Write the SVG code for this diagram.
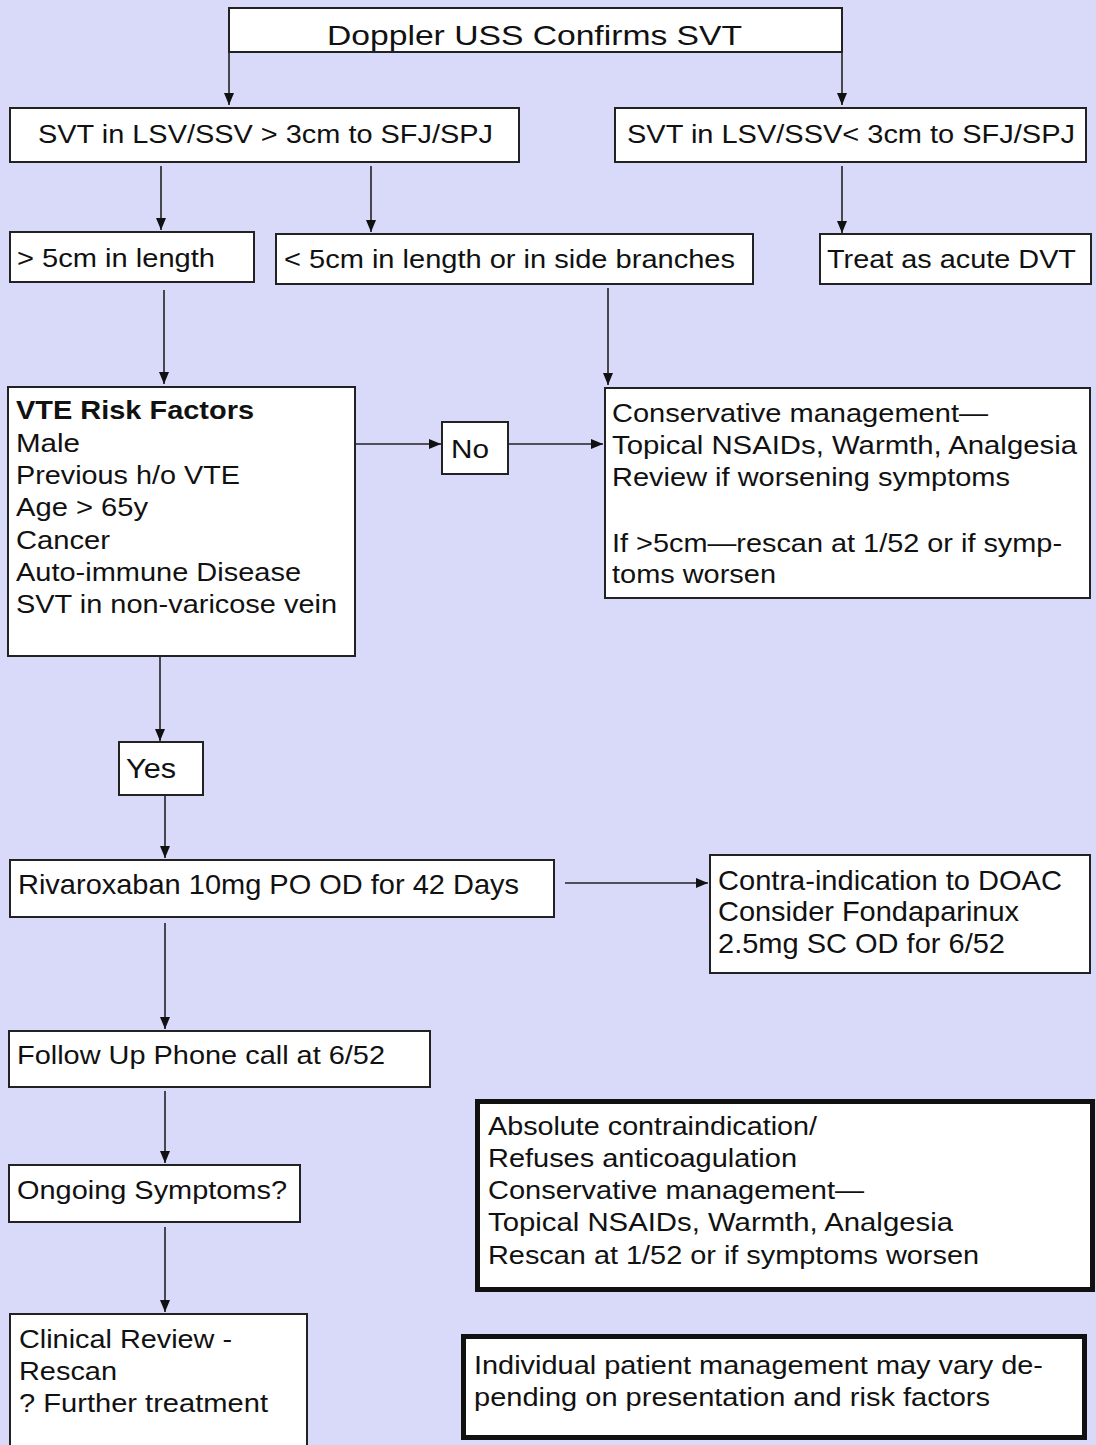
<svg xmlns="http://www.w3.org/2000/svg" width="1096" height="1445" viewBox="0 0 1096 1445">
<defs>
<marker id="ah" viewBox="0 0 12 10" refX="12" refY="5" markerWidth="12" markerHeight="10" markerUnits="userSpaceOnUse" orient="auto">
<path d="M0,0 L12,5 L0,10 z" fill="#111"/>
</marker>
</defs>
<style>
.bx{fill:#fff;stroke:#222;stroke-width:2}
.tk{fill:#fff;stroke:#111;stroke-width:5}
.t{font-family:"Liberation Sans",Arial,sans-serif;font-size:26.5px;fill:#111}
.n{font-family:"Liberation Sans",Arial,sans-serif;font-size:28px;fill:#111}
.c{stroke:#222;stroke-width:1.6;fill:none;marker-end:url(#ah)}
</style>
<rect width="1096" height="1445" fill="#d9d9f9"/>
<g id="connectors">
<path class="c" d="M229,52 V105"/>
<path class="c" d="M842,52 V105"/>
<path class="c" d="M161,166 V230"/>
<path class="c" d="M371,166 V232"/>
<path class="c" d="M842,166 V233"/>
<path class="c" d="M164,290 V384"/>
<path class="c" d="M608,288 V385"/>
<path class="c" d="M350,444 H441"/>
<path class="c" d="M508,444 H603"/>
<path class="c" d="M160,656 V741"/>
<path class="c" d="M165,796 V858"/>
<path class="c" d="M565,883 H708"/>
<path class="c" d="M165,923 V1029"/>
<path class="c" d="M165,1091 V1163"/>
<path class="c" d="M165,1227 V1312"/>
</g>
<g id="n-doppler"><rect class="bx" x="229" y="8" width="613" height="44"/><text class="t" x="327" y="45" style="font-size:27.5px" textLength="415" lengthAdjust="spacingAndGlyphs">Doppler USS Confirms SVT</text></g>
<g id="n-gt3"><rect class="bx" x="10" y="108" width="509" height="54"/><text class="t" x="38" y="143" textLength="455" lengthAdjust="spacingAndGlyphs">SVT in LSV/SSV &gt; 3cm to SFJ/SPJ</text></g>
<g id="n-lt3"><rect class="bx" x="615" y="108" width="471" height="54"/><text class="t" x="627" y="143" textLength="448" lengthAdjust="spacingAndGlyphs">SVT in LSV/SSV&lt; 3cm to SFJ/SPJ</text></g>
<g id="n-gt5"><rect class="bx" x="10" y="232" width="244" height="50"/><text class="t" x="17" y="267" textLength="198" lengthAdjust="spacingAndGlyphs">&gt; 5cm in length</text></g>
<g id="n-lt5"><rect class="bx" x="276" y="234" width="477" height="50"/><text class="t" x="284" y="268" textLength="451" lengthAdjust="spacingAndGlyphs">&lt; 5cm in length or in side branches</text></g>
<g id="n-dvt"><rect class="bx" x="820" y="234" width="271" height="50"/><text class="t" x="827" y="268" textLength="249" lengthAdjust="spacingAndGlyphs">Treat as acute DVT</text></g>
<g id="n-vte"><rect class="bx" x="8" y="387" width="347" height="269"/>
<text class="t" x="16" y="419" font-weight="bold" textLength="238" lengthAdjust="spacingAndGlyphs">VTE Risk Factors</text>
<text class="t" x="16" y="452" textLength="64" lengthAdjust="spacingAndGlyphs">Male</text>
<text class="t" x="16" y="484" textLength="224" lengthAdjust="spacingAndGlyphs">Previous h/o VTE</text>
<text class="t" x="16" y="516" textLength="132" lengthAdjust="spacingAndGlyphs">Age &gt; 65y</text>
<text class="t" x="16" y="549" textLength="94" lengthAdjust="spacingAndGlyphs">Cancer</text>
<text class="t" x="16" y="581" textLength="285" lengthAdjust="spacingAndGlyphs">Auto-immune Disease</text>
<text class="t" x="16" y="613" textLength="321" lengthAdjust="spacingAndGlyphs">SVT in non-varicose vein</text>
</g>
<g id="n-no"><rect class="bx" x="442" y="422" width="66" height="52"/><text class="t" x="451" y="458" textLength="38" lengthAdjust="spacingAndGlyphs">No</text></g>
<g id="n-cons"><rect class="bx" x="605" y="388" width="485" height="210"/>
<text class="t" x="612" y="422" textLength="376" lengthAdjust="spacingAndGlyphs">Conservative management—</text>
<text class="t" x="612" y="454" textLength="465" lengthAdjust="spacingAndGlyphs">Topical NSAIDs, Warmth, Analgesia</text>
<text class="t" x="612" y="486" textLength="398" lengthAdjust="spacingAndGlyphs">Review if worsening symptoms</text>
<text class="t" x="612" y="552" textLength="450" lengthAdjust="spacingAndGlyphs">If &gt;5cm—rescan at 1/52 or if symp-</text>
<text class="t" x="612" y="583" textLength="164" lengthAdjust="spacingAndGlyphs">toms worsen</text>
</g>
<g id="n-yes"><rect class="bx" x="119" y="742" width="84" height="53"/><text class="n" x="126" y="778" textLength="50" lengthAdjust="spacingAndGlyphs">Yes</text></g>
<g id="n-riva"><rect class="bx" x="10" y="860" width="544" height="57"/><text class="n" x="18" y="894" textLength="501" lengthAdjust="spacingAndGlyphs">Rivaroxaban 10mg PO OD for 42 Days</text></g>
<g id="n-contra"><rect class="bx" x="710" y="855" width="380" height="118"/>
<text class="n" x="718" y="890" textLength="344" lengthAdjust="spacingAndGlyphs">Contra-indication to DOAC</text>
<text class="n" x="718" y="921" textLength="301" lengthAdjust="spacingAndGlyphs">Consider Fondaparinux</text>
<text class="n" x="718" y="953" textLength="287" lengthAdjust="spacingAndGlyphs">2.5mg SC OD for 6/52</text>
</g>
<g id="n-follow"><rect class="bx" x="9" y="1031" width="421" height="56"/><text class="t" x="17" y="1064" textLength="368" lengthAdjust="spacingAndGlyphs">Follow Up Phone call at 6/52</text></g>
<g id="n-ongoing"><rect class="bx" x="9" y="1165" width="291" height="57"/><text class="t" x="17" y="1199" textLength="270" lengthAdjust="spacingAndGlyphs">Ongoing Symptoms?</text></g>
<g id="n-clinical"><rect class="bx" x="10" y="1314" width="297" height="140"/>
<text class="t" x="19" y="1348" textLength="213" lengthAdjust="spacingAndGlyphs">Clinical Review -</text>
<text class="t" x="19" y="1380" textLength="98" lengthAdjust="spacingAndGlyphs">Rescan</text>
<text class="t" x="19" y="1412" textLength="249" lengthAdjust="spacingAndGlyphs">? Further treatment</text>
</g>
<g id="n-absolute"><rect class="tk" x="477.5" y="1101.5" width="615" height="188"/>
<text class="t" x="488" y="1135" textLength="329" lengthAdjust="spacingAndGlyphs">Absolute contraindication/</text>
<text class="t" x="488" y="1167" textLength="309" lengthAdjust="spacingAndGlyphs">Refuses anticoagulation</text>
<text class="t" x="488" y="1199" textLength="376" lengthAdjust="spacingAndGlyphs">Conservative management—</text>
<text class="t" x="488" y="1231" textLength="465" lengthAdjust="spacingAndGlyphs">Topical NSAIDs, Warmth, Analgesia</text>
<text class="t" x="488" y="1264" textLength="491" lengthAdjust="spacingAndGlyphs">Rescan at 1/52 or if symptoms worsen</text>
</g>
<g id="n-individual"><rect class="tk" x="463.5" y="1336.5" width="621" height="101"/>
<text class="t" x="474" y="1374" textLength="569" lengthAdjust="spacingAndGlyphs">Individual patient management may vary de-</text>
<text class="t" x="474" y="1406" textLength="516" lengthAdjust="spacingAndGlyphs">pending on presentation and risk factors</text>
</g>
</svg>
